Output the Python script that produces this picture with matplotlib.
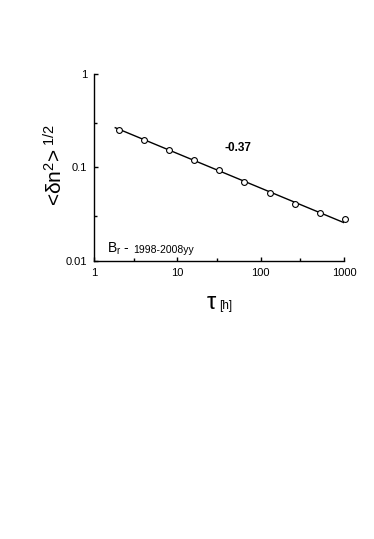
import numpy as np
import matplotlib
matplotlib.use("Agg")
import matplotlib.pyplot as plt
import matplotlib.ticker as mticker

plt.rcParams['font.family'] = ['Liberation Sans', 'DejaVu Sans']
plt.rcParams['mathtext.fontset'] = 'custom'
plt.rcParams['mathtext.rm'] = 'Liberation Sans'
plt.rcParams['mathtext.it'] = 'Liberation Sans:italic'

# data
tau = [2, 4, 8, 16, 32, 64, 128, 256, 512, 1024]
dn = [0.251, 0.196, 0.153, 0.120, 0.093, 0.0708, 0.0535, 0.0405, 0.0327, 0.0284]
# power-law fit: dn = fit_amp * (tau/1000)**fit_exp
fit_amp = 0.0257
fit_exp = -0.37
fit_range = [1.8, 1000]
slope_label = "-0.37"

fig = plt.figure(figsize=[3.74, 5.39], dpi=100)
ax = fig.add_axes([0.2513, 0.5158, 0.6684, 0.3469])

xf = np.logspace(np.log10(fit_range[0]), np.log10(fit_range[1]), 50)
ax.plot(xf, fit_amp*(xf/1000.0)**fit_exp, "k", lw=1.0)
ax.plot(tau, dn, "o", mfc="w", mec="k", mew=0.8, ms=4.2, clip_on=False, zorder=5)

ax.set_xscale("log")
ax.set_yscale("log")
ax.set_xlim([1, 1000])
ax.set_ylim([0.01, 1])
ax.spines["top"].set_visible(False)
ax.spines["right"].set_visible(False)
ax.spines["left"].set_linewidth(1.0)
ax.spines["bottom"].set_linewidth(1.0)

ax.xaxis.set_major_locator(mticker.FixedLocator([1, 10, 100, 1000]))
ax.xaxis.set_major_formatter(mticker.FixedFormatter(["1", "10", "100", "1000"]))
ax.xaxis.set_minor_locator(mticker.FixedLocator([3, 30, 300]))
ax.yaxis.set_major_locator(mticker.FixedLocator([0.01, 0.1, 1]))
ax.yaxis.set_major_formatter(mticker.FixedFormatter(["0.01", "0.1", "1"]))
ax.yaxis.set_minor_locator(mticker.FixedLocator([0.03, 0.3]))
ax.xaxis.set_minor_formatter(mticker.NullFormatter())
ax.yaxis.set_minor_formatter(mticker.NullFormatter())
ax.tick_params(which="major", direction="in", length=3, width=1.0, labelsize=8, pad=5)
ax.tick_params(which="minor", direction="in", length=2, width=1.0)

ax.text(0.576, 0.604, slope_label, transform=ax.transAxes, fontsize=8.5,
        fontweight="bold", ha="center", va="center")
ax.text(0.052, 0.045, r"B$_\mathrm{r}$ -", transform=ax.transAxes, fontsize=10,
        ha="left", va="baseline")
ax.text(0.156, 0.045, "1998-2008yy", transform=ax.transAxes, fontsize=7.5,
        ha="left", va="baseline")

# axis labels
fig.text(55/374, 1-165/539, r"<δn$^\mathrm{2}$>$^\mathrm{\ 1/2}$", rotation=90,
         fontsize=15, ha="center", va="center")
fig.text(217/374, 1-309/539, r"$\mathrm{\tau}$", fontsize=17, ha="right", va="baseline")
fig.text(219/374, 1-309/539, "[h]", fontsize=8.5, ha="left", va="baseline")

fig.savefig("out.png", dpi=100)
